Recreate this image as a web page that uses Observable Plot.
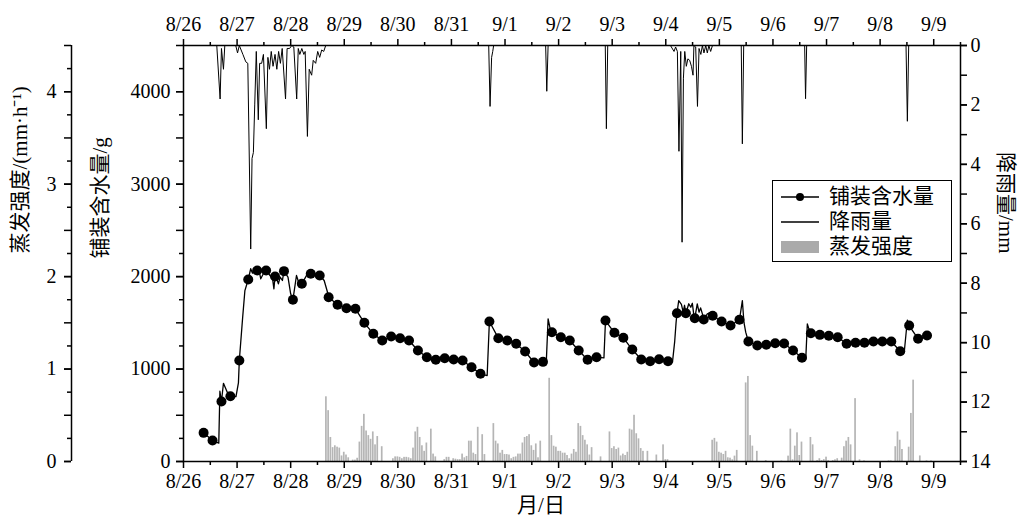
<!DOCTYPE html>
<html><head><meta charset="utf-8">
<script src="https://cdn.jsdelivr.net/npm/d3@7"></script>
<script src="https://cdn.jsdelivr.net/npm/@observablehq/plot@0.6"></script>
<style>
body{margin:0;background:#fff;}
#wrap{position:relative;width:1018px;height:523px;overflow:hidden;}
#legend{position:absolute;left:772px;top:180px;width:180px;height:82px;border:1.5px solid #000;background:#fff;box-sizing:border-box;
  font-family:"Liberation Serif","Noto Sans CJK SC",serif;font-size:21px;line-height:1;padding-top:3px;}
#legend .row{display:flex;align-items:center;height:25px;}
#legend svg{margin-left:8px;margin-right:10px;}
</style></head>
<body><div id="wrap"></div>
<script>
// ---------- data (hours are counted from 8/26 00:00) ----------
const dayLabels = ["8/26","8/27","8/28","8/29","8/30","8/31","9/1","9/2","9/3","9/4","9/5","9/6","9/7","9/8","9/9"];

// pavement water content (g), sampled every 4 h starting 8/26 09:00
const moistStartHour = 9, moistStepHours = 4;
const moistValues = [310,227,649,706,1093,1969,2066,2066,2001,2059,1749,1922,2030,2012,1777,1695,1658,1652,1500,1381,
  1309,1352,1334,1309,1201,1128,1100,1117,1103,1093,1020,949,1514,1334,1309,1273,1190,1071,1078,1399,
  1345,1309,1201,1100,1128,1525,1392,1338,1211,1103,1085,1107,1085,1604,1604,1550,1536,1576,1514,1471,
  1533,1298,1255,1262,1280,1276,1201,1122,1388,1370,1360,1345,1273,1284,1284,1298,1298,1298,1193,1471,1327,1363];

// extra points of the continuous water-content record (between markers)
const lineExtraH = [15.8,16.3,17.9,19.6,23.5,24.6,26.5,27.5,30.1,30.9,31.6,32.4,33.9,34.6,36.1,39.1,39.9,40.5,41.8,42.5,43.3,44.3,46.8,48,50.6,51.8,55.5,59.2,63,64.5,
  136,162.5,163.3,164.2,188.3,219,220,220.6,221.8,223,223.8,224.4,226.3,227.2,227.9,228.5,230.1,230.9,231.6,232.4,234.6,235.7,
  250.3,251,251.8,278.7,279.4,280.1,322.8,324.2];
const lineExtraW = [198,760,846,749,703,850,1560,1849,2085,2037,2074,2048,2059,1976,2048,2001,1976,1868,1976,1922,1994,1958,1994,1814,2012,1922,2030,2023,1958,1831,
  930,1085,1543,1440,1120,1075,1300,1500,1741,1700,1615,1690,1706,1669,1712,1597,1706,1615,1662,1597,1597,1608,
  1741,1507,1399,1111,1489,1435,1182,1530];

// rainfall (mm)
const rainH = [0,14.9,16.4,17.0,17.9,18.5,23.4,24.2,25.0,26.6,27.9,28.8,30.1,30.7,31.3,31.9,32.6,33.5,34.1,35.0,35.8,37.1,37.8,38.5,39.3,40.1,41.0,41.8,42.6,43.4,44.2,45.7,46.4,47.5,48.5,
  49.4,50.7,51.4,52.1,53.0,53.9,54.5,55.5,56.3,57.4,58.1,59.2,60.1,61.0,61.9,62.8,63.7,
  136.7,137.3,138.0,138.5,138.9,162.2,162.7,163.3,188.9,189.4,190.0,
  218.1,219.7,220.4,221.2,221.9,222.7,223.3,223.9,224.5,225.2,225.9,226.7,227.5,228.2,228.6,229.4,230.2,230.9,231.7,232.4,233.1,233.9,234.6,235.3,236.1,236.9,
  249.8,250.3,250.9,278.2,278.6,279.1,323.6,324.2,324.8,348];
const rainMM = [0,0,1.8,0.1,0.8,0,0,0.25,0,0.3,0.55,0.6,6.85,3.8,3.6,2.0,0.2,2.5,0.6,0.6,0.3,2.8,0.4,0.8,0.2,0.7,0.3,0.8,0.2,0.6,0.1,1.8,0.1,0.1,0,
  0.05,1.8,0.1,0.3,0.1,0.3,0.2,3.06,0.8,1.0,0.5,0.6,0.2,0.4,0.15,0.2,0,
  0,2.05,0.4,0.2,0,0,1.54,0,0,2.8,0,
  0,0.2,0.05,0.2,3.56,0.2,6.62,1.1,0.2,0.7,0.45,0.5,0.7,1.0,0,0.05,2.05,0.1,0.3,0,0.25,0,0.25,0,0.2,0,
  0,3.31,0,0,1.79,0,0,2.55,0,0];

// evaporation intensity (mm/h), hourly
const evapH = [64,65,66,67,68,69,70,71,72,73,74,76,77,78,79,80,81,82,83,84,85,86,87,89,
  94,95,96,97,98,99,100,101,102,103,104,105,106,107,108,109,111,112,113,117,118,119,121,122,123,124,125,126,127,128,129,130,131,132,134,135,
  139,140,141,142,143,144,145,146,147,148,149,150,151,152,153,154,155,156,157,158,159,160,164,165,166,167,168,169,170,171,172,173,174,175,
  176,177,178,179,180,181,182,183,187,191,192,193,194,195,196,197,198,199,200,201,202,203,204,205,206,208,212,215,216,217,
  237,238,239,240,241,242,243,244,245,246,247,248,252,253,254,255,257,261,268,271,272,273,274,275,276,277,281,282,284,285,286,287,288,289,
  291,292,293,295,296,297,298,299,301,303,305,316,317,319,320,321,322,325,326,327,330,333,335];
const evapV = [0.70,0.55,0.26,0.15,0.17,0.155,0.145,0.06,0.10,0.07,0.04,0.015,0.015,0.035,0.21,0.38,0.51,0.33,0.28,0.24,0.32,0.18,0.27,0.16,
  0.03,0.05,0.05,0.045,0.03,0.045,0.045,0.04,0.03,0.145,0.32,0.37,0.26,0.17,0.11,0.20,0.35,0.08,0.05,0.02,0.045,0.045,0.03,0.025,0.02,0.02,0.08,0.04,0.055,0.22,0.22,0.09,0.075,0.37,0.29,0.075,
  0.41,0.22,0.19,0.09,0.12,0.075,0.075,0.07,0.03,0.045,0.05,0.08,0.08,0.20,0.26,0.27,0.29,0.17,0.12,0.19,0.04,0.22,0.90,0.28,0.165,0.155,0.11,0.11,0.09,0.09,0.065,0.03,0.08,0.13,
  0.10,0.41,0.38,0.28,0.23,0.18,0.07,0.15,0.05,0.32,0.14,0.16,0.13,0.145,0.06,0.08,0.065,0.10,0.35,0.34,0.50,0.30,0.245,0.14,0.11,0.11,0.07,0.18,0.02,0.02,
  0.23,0.25,0.21,0.10,0.09,0.076,0.11,0.04,0.036,0.018,0.058,0.12,0.85,0.92,0.28,0.166,0.11,0.01,0.005,0.058,0.35,0.018,0.166,0.31,0.065,0.21,0.26,0.18,0.01,0.03,0.01,0.02,0.047,0.01,
  0.01,0.018,0.03,0.036,0.16,0.22,0.26,0.18,0.68,0.018,0.007,0.007,0.007,0.16,0.32,0.23,0.13,0.155,0.52,0.88,0.06,0.007,0.007];

// axis tick values
const waterTicks = [0,1000,2000,3000,4000];
const evapTicks = [0,1,2,3,4];
const rainTicks = [0,2,4,6,8,10,12,14];

// ---------- scales shared between the three y axes ----------
const yMax = 4500, evapMax = 4.5, rainMax = 14, xMax = 348;
const rainPos = r => yMax * (1 - r / rainMax);
const evapPos = v => v * yMax / evapMax;

const dayTicks = dayLabels.map((_, i) => i * 24);
const halfTicks = dayTicks.map(d => d + 12).filter(d => d <= xMax);
const water500 = d3.range(0, yMax + 1, 500);
const water250 = d3.range(250, yMax, 500);
const rainMinor = d3.range(0, rainMax + 1, 1);

const moist = moistValues.map((w, i) => ({h: moistStartHour + i * moistStepHours, w}));
const line = moist.concat(lineExtraH.map((h, i) => ({h, w: lineExtraW[i]}))).sort((a, b) => a.h - b.h);
const rain = rainH.map((h, i) => ({h, y: rainPos(rainMM[i])}));
const evap = evapH.map((h, i) => ({h, y: evapPos(evapV[i])}));

const serif = '"Liberation Serif","Times New Roman","Noto Sans CJK SC",serif';
const blank = () => "";

const chart = Plot.plot({
  width: 1018, height: 523,
  marginTop: 45, marginBottom: 62, marginLeft: 183, marginRight: 58,
  x: {domain: [0, xMax]},
  y: {domain: [0, yMax]},
  style: {fontFamily: serif, fontSize: "20px", color: "#000", background: "#fff"},
  marks: [
    Plot.rectY(evap, {x1: d => d.h - 0.38, x2: d => d.h + 0.38, y: "y", fill: "#b5b5b5"}),
    Plot.line(rain, {x: "h", y: "y", stroke: "#000", strokeWidth: 1}),
    Plot.line(line, {x: "h", y: "w", stroke: "#000", strokeWidth: 1.3}),
    Plot.dot(moist, {x: "h", y: "w", r: 5, fill: "#000"}),
    Plot.frame({stroke: "#000", strokeWidth: 1.5}),
    // x axes
    Plot.axisX(dayTicks, {anchor: "bottom", tickSize: 7, tickPadding: 5, strokeWidth: 1.5, label: null, tickFormat: d => dayLabels[dayTicks.indexOf(d)]}),
    Plot.axisX(halfTicks, {anchor: "bottom", tickSize: 4, strokeWidth: 1.5, label: null, tickFormat: blank}),
    Plot.axisX(dayTicks, {anchor: "top", tickSize: 7, tickPadding: 8, strokeWidth: 1.5, label: null, tickFormat: d => dayLabels[dayTicks.indexOf(d)]}),
    Plot.axisX(halfTicks, {anchor: "top", tickSize: 4, strokeWidth: 1.5, label: null, tickFormat: blank}),
    // water content axis
    Plot.axisY(waterTicks, {anchor: "left", tickSize: 7, tickPadding: 6, strokeWidth: 1.5, label: null, tickFormat: d => String(d)}),
    Plot.axisY(water500, {anchor: "left", tickSize: 7, strokeWidth: 1.5, label: null, tickFormat: blank}),
    Plot.axisY(water250, {anchor: "left", tickSize: 4, strokeWidth: 1.5, label: null, tickFormat: blank}),
    // evaporation axis (outer left)
    Plot.ruleX([0], {dx: -112, stroke: "#000", strokeWidth: 1.5}),
    Plot.axisY(evapTicks.map(evapPos), {anchor: "left", dx: -112, tickSize: 7, tickPadding: 8, strokeWidth: 1.5, label: null,
      tickFormat: d => evapTicks[evapTicks.map(evapPos).indexOf(d)]}),
    Plot.axisY(water500, {anchor: "left", dx: -112, tickSize: 7, strokeWidth: 1.5, label: null, tickFormat: blank}),
    Plot.axisY(water250, {anchor: "left", dx: -112, tickSize: 4, strokeWidth: 1.5, label: null, tickFormat: blank}),
    // rainfall axis (right, inverted)
    Plot.axisY(rainTicks.map(rainPos), {anchor: "right", tickSize: 6, tickPadding: 4, strokeWidth: 1.5, label: null,
      tickFormat: d => rainTicks[rainTicks.map(rainPos).indexOf(d)]}),
    Plot.axisY(rainMinor.map(rainPos), {anchor: "right", tickSize: 6, strokeWidth: 1.5, label: null, tickFormat: blank}),
    // titles
    Plot.text(["蒸发强度/(mm·h⁻¹)"], {frameAnchor: "left", dx: -163, rotate: -90, fontSize: 21, fill: "#000"}),
    Plot.text(["铺装含水量/g"], {frameAnchor: "left", dx: -83, dy: 5, rotate: -90, fontSize: 21, fill: "#000"}),
    Plot.text(["降雨量/mm"], {frameAnchor: "right", dx: 45, rotate: 90, fontSize: 21, fill: "#000"}),
    Plot.text(["月/日"], {frameAnchor: "bottom", dx: -31, dy: 50, fontSize: 21, fill: "#000"})
  ]
});
const wrap = document.getElementById("wrap");
wrap.appendChild(chart);

// legend
const legend = document.createElement("div");
legend.id = "legend";
legend.innerHTML = `
 <div class="row"><svg width="38" height="12"><line x1="0" y1="6" x2="38" y2="6" stroke="#000" stroke-width="1.5"/><circle cx="19" cy="6" r="4" fill="#000"/></svg><span>铺装含水量</span></div>
 <div class="row"><svg width="38" height="12"><line x1="0" y1="6" x2="38" y2="6" stroke="#000" stroke-width="1.5"/></svg><span>降雨量</span></div>
 <div class="row"><svg width="38" height="14"><rect x="0" y="1" width="38" height="12" fill="#aaaaaa"/></svg><span>蒸发强度</span></div>`;
wrap.appendChild(legend);
</script>
</body></html>
